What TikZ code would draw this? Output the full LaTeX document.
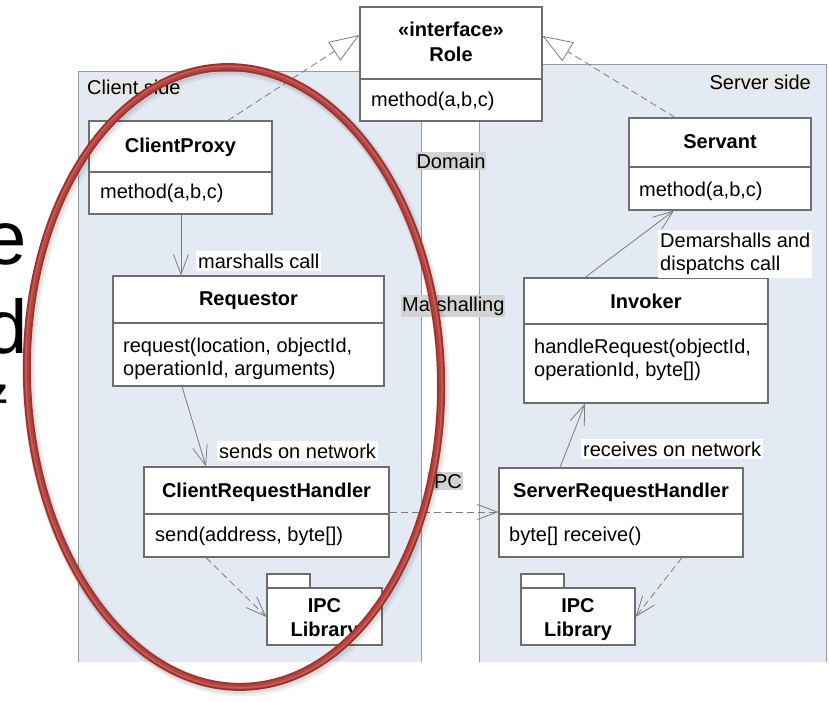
\documentclass[tikz,border=0pt]{standalone}
\usepackage{fontspec}
\setmainfont{Liberation Sans}
\usetikzlibrary{arrows.meta,calc}
\definecolor{regionfill}{HTML}{E4EAF4}
\definecolor{regionline}{HTML}{9A9A9A}
\definecolor{boxline}{HTML}{6E6E6E}
\definecolor{conline}{HTML}{7C7C7C}
\definecolor{lbldark}{HTML}{D2D2D2}
\definecolor{lbllight}{HTML}{E8E8E8}
\definecolor{ellred}{HTML}{9E302D}
\definecolor{ellmid}{HTML}{B4443F}
\definecolor{ellhi}{HTML}{C65E59}
\tikzset{
  txt/.style={font=\fontsize{20}{23}\selectfont, inner sep=0pt},
  classbox/.style={draw=boxline, fill=white, line width=1.1pt, inner sep=0pt, rectangle},
  titletext/.style={txt, font=\fontsize{20}{23}\selectfont\bfseries, anchor=base},
  attrtext/.style={txt, anchor=base west},
  divider/.style={draw=boxline, line width=1.1pt},
  assoc/.style={draw=conline, line width=0.8pt, -{Straight Barb[length=20pt,width=15pt]}},
  depend/.style={assoc, dash pattern=on 7pt off 4pt},
  realize/.style={draw=conline, line width=0.8pt, dash pattern=on 7pt off 4pt,
    -{Triangle[length=30pt,width=22pt,fill=white]}},
  clabel/.style={txt, fill=white, inner xsep=2pt, inner ysep=3pt},
  darklabel/.style={txt, fill=lbldark, inner xsep=1pt, inner ysep=2pt},
  lightlabel/.style={txt, fill=lbllight, inner xsep=1pt, inner ysep=2pt},
  bigtext/.style={font=\fontsize{76}{80}\selectfont, inner sep=0pt, anchor=base east},
}
\begin{document}
\begin{tikzpicture}[x=1pt,y=-1pt]
\useasboundingbox (0,0) rectangle (829,701);
\fill[white] (0,0) rectangle (829,701);

% partial slide text on the far left
\begin{scope}
\clip (0,0) rectangle (40,701);
\node[bigtext] (bigE) at (27,264) {e};
\node[bigtext] (bigD) at (28,353) {d};
\node[bigtext, font=\fontsize{35}{40}\selectfont\bfseries] (bigZ) at (8,403) {z};
\end{scope}

% regions
\fill[regionfill] (78,71) rectangle (421,662);
\draw[regionline, line width=0.8pt] (78,662) -- (78,71) -- (421,71) -- (421,662);
\fill[regionfill] (479,64) rectangle (826,662);
\draw[regionline, line width=0.8pt] (479,662) -- (479,64) -- (826,64) -- (826,662);

\node[lightlabel, anchor=base west] (clientside) at (86,94) {Client side};
\node[lightlabel, anchor=base east] (serverside) at (812,89) {Server side};

% Role
\node[classbox, minimum width=182pt, minimum height=114pt] (role) at (451,64) {};
\draw[divider] (role.west |- 0,79) -- (role.east |- 0,79);
\node[titletext] (roleS) at (451,37) {«interface»};
\node[titletext] (roleT) at (451,61) {Role};
\node[attrtext] (roleA) at (371,106) {method(a,b,c)};

% ClientProxy
\node[classbox, minimum width=183pt, minimum height=93pt] (proxy) at (180.5,167.5) {};
\draw[divider] (proxy.west |- 0,172) -- (proxy.east |- 0,172);
\node[titletext] (proxyT) at (180.5,152) {ClientProxy};
\node[attrtext] (proxyA) at (100,198) {method(a,b,c)};

% Requestor
\node[classbox, minimum width=271pt, minimum height=110pt] (req) at (248.5,331) {};
\draw[divider] (req.west |- 0,323) -- (req.east |- 0,323);
\node[titletext] (reqT) at (248.5,305) {Requestor};
\node[attrtext] (reqA1) at (123,352) {request(location, objectId,};
\node[attrtext] (reqA2) at (123,375) {operationId, arguments)};

% ClientRequestHandler
\node[classbox, minimum width=245pt, minimum height=90pt] (crh) at (266.5,512) {};
\draw[divider] (crh.west |- 0,514) -- (crh.east |- 0,514);
\node[titletext] (crhT) at (266.5,497) {ClientRequestHandler};
\node[attrtext] (crhA) at (155,541) {send(address, byte[])};

% IPC Library (client)
\node[classbox, minimum width=43pt, minimum height=14pt] (ipcLtab) at (288.5,581) {};
\node[classbox, minimum width=115pt, minimum height=57pt] (ipcL) at (324.5,616.5) {};
\node[titletext] (ipcL1) at (324.5,612) {IPC};
\node[titletext] (ipcL2) at (324.5,636) {Library};

% Servant
\node[classbox, minimum width=182pt, minimum height=92pt] (servant) at (720,164) {};
\draw[divider] (servant.west |- 0,167) -- (servant.east |- 0,167);
\node[titletext] (servantT) at (720,148) {Servant};
\node[attrtext] (servantA) at (639,196) {method(a,b,c)};

% Invoker
\node[classbox, minimum width=244pt, minimum height=125pt] (inv) at (646,340.5) {};
\draw[divider] (inv.west |- 0,324) -- (inv.east |- 0,324);
\node[titletext] (invT) at (646,308) {Invoker};
\node[attrtext] (invA1) at (534,353) {handleRequest(objectId,};
\node[attrtext] (invA2) at (534,376) {operationId, byte[])};

% ServerRequestHandler
\node[classbox, minimum width=244pt, minimum height=89pt] (srh) at (621,512.5) {};
\draw[divider] (srh.west |- 0,514) -- (srh.east |- 0,514);
\node[titletext] (srhT) at (621,497) {ServerRequestHandler};
\node[attrtext] (srhA) at (509,541) {byte[] receive()};

% IPC Library (server)
\node[classbox, minimum width=43pt, minimum height=14pt] (ipcRtab) at (542.5,581) {};
\node[classbox, minimum width=114pt, minimum height=57pt] (ipcR) at (578,616.5) {};
\node[titletext] (ipcR1) at (578,612) {IPC};
\node[titletext] (ipcR2) at (578,636) {Library};

% connectors
\draw[realize] (proxy.north -| 228,0) -- (role.west |- 0,35);
\draw[realize] (servant.north -| 675,0) -- (role.east |- 0,36);
\draw[assoc] (proxy.south -| 181,0) -- (req.north -| 181,0);
\draw[assoc] (req.south -| 182,0) -- (crh.north -| 206,0);
\draw[depend] (crh.east |- 0,512) -- (srh.west |- 0,512);
\draw[depend] (crh.south -| 206,0) -- (ipcL.west |- 0,617);
\draw[assoc] (srh.north -| 560,0) -- (inv.south -| 585,0);
\draw[assoc] (inv.north -| 585,0) -- (servant.south -| 674,0);
\draw[depend] (srh.south -| 682,0) -- (ipcR.east |- 0,617);

% connector labels
\node[clabel, anchor=base west] (lblMarsh) at (196,268) {marshalls call};
\node[clabel, anchor=base west] (lblSends) at (217,458) {sends on network};
\node[clabel, anchor=north west, align=left] (lblDemarsh) at (658,230) {Demarshalls and\\dispatchs call};
\node[clabel, anchor=base west] (lblRecv) at (581,456) {receives on network};

% layer labels
\node[darklabel, anchor=base] (domain) at (451,168) {Domain};
\node[darklabel, anchor=base west] (marshalling) at (401,311) {Marshalling};
\node[darklabel, anchor=base east] (ipclayer) at (463,488) {IPC};

% red ellipse highlight
\begin{scope}[rotate around={2:(234,377)}]
\draw[black, opacity=0.06, line width=13pt] (236,380) ellipse [x radius=207, y radius=310];
\draw[black, opacity=0.08, line width=10pt] (235,379) ellipse [x radius=207, y radius=310];
\draw[ellred, line width=8pt] (234,377) ellipse [x radius=207, y radius=310];
\draw[ellmid, line width=4.5pt] (234,377) ellipse [x radius=207, y radius=310];
\draw[ellhi, line width=1.3pt] (234,377) ellipse [x radius=208, y radius=311];
\end{scope}
\end{tikzpicture}
\end{document}
